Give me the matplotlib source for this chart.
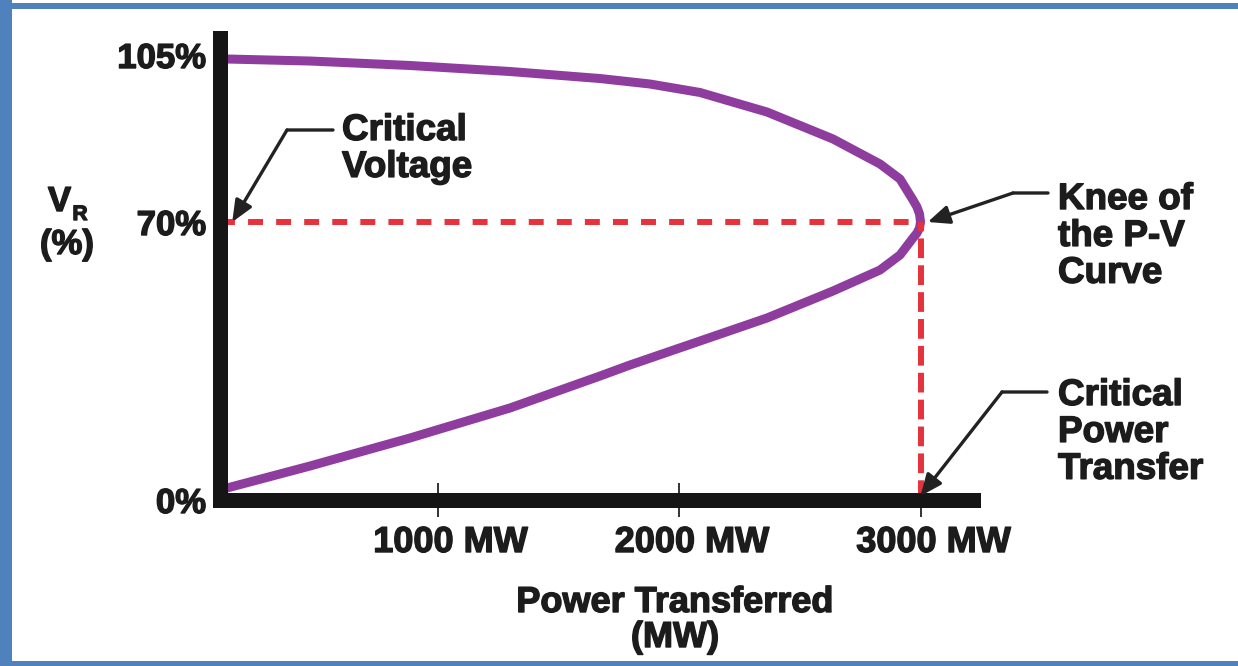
import numpy as np
import matplotlib.pyplot as plt
import matplotlib.patheffects as pe
from matplotlib.transforms import ScaledTranslation
from matplotlib.patches import Rectangle

W, H = 1238, 666
plt.rcParams['font.family'] = ['Liberation Sans', 'DejaVu Sans']
plt.rcParams['font.weight'] = 'bold'

# P-V curve: upper branch -> knee -> lower branch
power_mw = [97.3, 128.4, 472.0, 886.1, 1300.2, 1672.9, 1879.9, 2087.0, 2364.4, 2637.7,
            2832.3, 2915.1, 2968.9, 2985.5, 2995.9, 3000.0,
            2995.9, 2985.5, 2968.9, 2915.1, 2832.3, 2637.7, 2364.4, 2087.0, 1797.1,
            1672.9, 1300.2, 886.1, 472.0, 128.4, 97.3]
voltage_pct = [104.16, 104.16, 103.74, 102.80, 101.54, 100.07, 98.92, 97.14, 93.05, 87.40,
               82.16, 79.01, 74.61, 73.14, 71.68, 70.00,
               68.49, 67.23, 65.97, 61.69, 57.91, 52.63, 45.83, 40.04, 33.99,
               31.22, 23.17, 15.61, 8.56, 3.02, 2.52]

knee_mw = 3000
knee_pct = 70

x_ticks = [1000, 2000, 3000]
x_labels = ['1000 MW', '2000 MW', '3000 MW']
y_ticks = [0, 70, 105]
y_labels = ['0%', '70%', '105%']

ink = '#1c1c1c'
purple = '#8e3d9e'
red = '#e5323c'
frame_blue = '#4f81bd'
heavy = [pe.withStroke(linewidth=1.0, foreground=ink)]


# the drawing is schematic: 0-70 % and 70-105 % are stretched differently
def fwd(v):
    v = np.asarray(v, dtype=float)
    return np.where(v <= 70, v * 278 / 70, 278 + (v - 70) * 167 / 35)


def inv(h):
    h = np.asarray(h, dtype=float)
    return np.where(h <= 278, h * 70 / 278, 70 + (h - 278) * 35 / 167)


def fpx(x, y):
    # image pixel (from top-left) -> figure fraction
    return x / W, 1 - y / H


fig = plt.figure(figsize=(W / 100, H / 100), dpi=100)
ax = fig.add_axes([219.5 / W, 166 / H, (972.5 - 219.5) / W, 462.5 / H])
ax.set_yscale('function', functions=(fwd, inv))
ax.set_xlim(97.3, 3215.3)
ax.set_ylim(0, float(inv(462.5)))

ax.plot(power_mw, voltage_pct, color=purple, lw=6.5, solid_capstyle='round',
        solid_joinstyle='round', zorder=2)

x0 = ax.get_xlim()[0]
ax.plot([x0, knee_mw], [knee_pct, knee_pct], color=red, lw=4.3,
        dashes=(2.5, 2.2), zorder=3)
ax.plot([knee_mw, knee_mw], [0, knee_pct], color=red, lw=4.3,
        dashes=(3.3, 1.2), zorder=3)

for side in ['top', 'right']:
    ax.spines[side].set_visible(False)
for side in ['left', 'bottom']:
    sp = ax.spines[side]
    sp.set_linewidth(10.8)
    sp.set_color('#151515')
    sp.set_capstyle('projecting')
    sp.set_zorder(5)

ax.set_xticks(x_ticks, x_labels)
ax.tick_params(axis='x', direction='inout', length=24, width=1.4, color='#333333',
               pad=6, labelsize=26, labelcolor=ink)
for lab in ax.get_xticklabels():
    lab.set_transform(lab.get_transform() + ScaledTranslation(0.13, 0, fig.dpi_scale_trans))
    lab.set_path_effects(heavy)

ax.set_yticks(y_ticks, y_labels)
ax.tick_params(axis='y', length=0, pad=9.7, labelsize=25, labelcolor=ink)
ax.minorticks_off()
for lab in ax.get_yticklabels():
    lab.set_path_effects(heavy)

# y axis label V_R (%)
fig.text(*fpx(59.5, 185), 'V', ha='center', va='top', fontsize=25, color=ink,
         path_effects=heavy)
fig.text(*fpx(80, 205), 'R', ha='center', va='top', fontsize=15, color=ink,
         path_effects=heavy)
fig.text(*fpx(67, 228), '(%)', ha='center', va='top', fontsize=25, color=ink,
         path_effects=heavy)

# x axis label
fig.text(*fpx(675, 585), 'Power Transferred\n(MW)', ha='center', va='top',
         multialignment='center', fontsize=26, color=ink, linespacing=1.0,
         path_effects=heavy)

# callouts
fig.text(*fpx(342, 113), 'Critical\nVoltage', ha='left', va='top',
         fontsize=26.5, color=ink, linespacing=1.07, path_effects=heavy)
fig.text(*fpx(1058, 182), 'Knee of\nthe P-V\nCurve', ha='left', va='top',
         fontsize=26.5, color=ink, linespacing=1.07, path_effects=heavy)
fig.text(*fpx(1058, 378), 'Critical\nPower\nTransfer', ha='left', va='top',
         fontsize=26.5, color=ink, linespacing=1.07, path_effects=heavy)

arrow_kw = dict(arrowstyle='-|>,head_length=0.65,head_width=0.28', mutation_scale=20,
                lw=2.4, color='#222222', shrinkA=0, shrinkB=0)
line_kw = dict(arrowstyle='-', lw=2.4, color='#222222', shrinkA=0, shrinkB=0)

callouts = [
    ((150, knee_pct), (287, 130), (333, 130)),
    ((knee_mw + 30, knee_pct), (1013, 193), (1048, 193)),
    ((knee_mw, 1), (1002, 392), (1047, 392)),
]
for tip, elbow, end in callouts:
    e = (elbow[0], H - elbow[1])
    t = (end[0], H - end[1])
    ax.annotate('', xy=e, xycoords='figure pixels', xytext=t,
                textcoords='figure pixels', arrowprops=line_kw)
    ax.annotate('', xy=tip, xycoords='data', xytext=e,
                textcoords='figure pixels', arrowprops=arrow_kw, zorder=6)

# blue frame around the picture
for rect in [(0, 3, W, 6), (0, 0, 12, H), (0, 660.5, W, 5.5)]:
    x, y, w, h = rect
    fig.add_artist(Rectangle((x / W, 1 - (y + h) / H), w / W, h / H,
                             transform=fig.transFigure, color=frame_blue, lw=0))

fig.savefig('out.png', dpi=100)
